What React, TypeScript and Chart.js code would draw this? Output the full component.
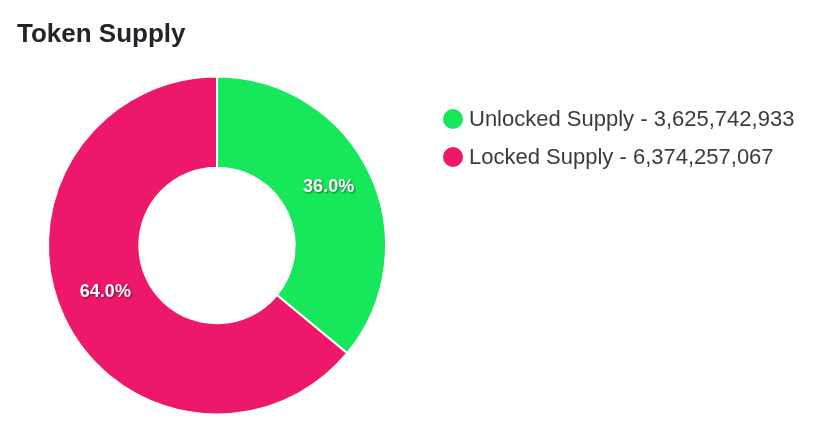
import React, { useEffect, useRef } from "react";
import { Chart, registerables } from "chart.js";

Chart.register(...registerables);

const categories = ["Unlocked Supply", "Locked Supply"];
const supplyValues = [3625742933, 6374257067];
const sharePercents = [36.0, 64.0];
const sliceColors = ["#17E75A", "#EE186B"];

const FONT = "'Liberation Sans', Arial, Helvetica, sans-serif";

const labelPlugin = {
  id: "sliceLabels",
  afterDatasetsDraw(chart: any) {
    const ctx = chart.ctx;
    const meta = chart.getDatasetMeta(0);
    const data = chart.data.datasets[0].data as number[];
    const total = data.reduce((a, b) => a + b, 0);
    ctx.save();
    ctx.font = `bold 18px ${FONT}`;
    ctx.textAlign = "center";
    ctx.textBaseline = "middle";
    ctx.fillStyle = "#ffffff";
    ctx.shadowColor = "rgba(0,0,0,0.5)";
    ctx.shadowOffsetX = 1;
    ctx.shadowOffsetY = 1;
    ctx.shadowBlur = 2;
    meta.data.forEach((arc: any, i: number) => {
      const p = arc.tooltipPosition();
      const pct = ((data[i] / total) * 100).toFixed(1) + "%";
      ctx.fillText(pct, p.x, p.y - 6);
    });
    ctx.restore();
  },
};

export default function App() {
  const ref = useRef<HTMLCanvasElement | null>(null);
  useEffect(() => {
    if (!ref.current) return;
    const chart = new Chart(ref.current, {
      type: "doughnut",
      data: {
        labels: categories,
        datasets: [
          {
            data: sharePercents,
            backgroundColor: sliceColors,
            borderColor: "#ffffff",
            borderWidth: 2,
            hoverOffset: 0,
          },
        ],
      },
      options: {
        animation: false,
        responsive: false,
        cutout: "46%",
        layout: { padding: { left: 47, top: 75, right: 429, bottom: 15 } },
        plugins: {
          legend: { display: false },
          title: { display: false },
          tooltip: { enabled: false },
        },
      },
      plugins: [labelPlugin],
    });
    return () => chart.destroy();
  }, []);

  return (
    <div style={{ position: "absolute", left: 0, top: 0, width: 816, height: 431, background: "#fff", fontFamily: FONT }}>
      <canvas ref={ref} width={816} height={431} style={{ position: "absolute", left: 0, top: 0 }} />
      <div style={{ position: "absolute", left: 17, top: 18, fontSize: 26, fontWeight: "bold", color: "#212529", lineHeight: "30px" }}>
        Token Supply
      </div>
      <div style={{ position: "absolute", left: 443, top: 100 }}>
        {categories.map((c, i) => (
          <div key={c} style={{ display: "flex", alignItems: "center", height: 38 }}>
            <span style={{ display: "inline-block", width: 20, height: 20, borderRadius: "50%", background: sliceColors[i], marginRight: 6 }} />
            <span style={{ fontSize: 22, color: "#373d3f", lineHeight: "24px" }}>
              {c} - {supplyValues[i].toLocaleString("en-US")}
            </span>
          </div>
        ))}
      </div>
    </div>
  );
}
